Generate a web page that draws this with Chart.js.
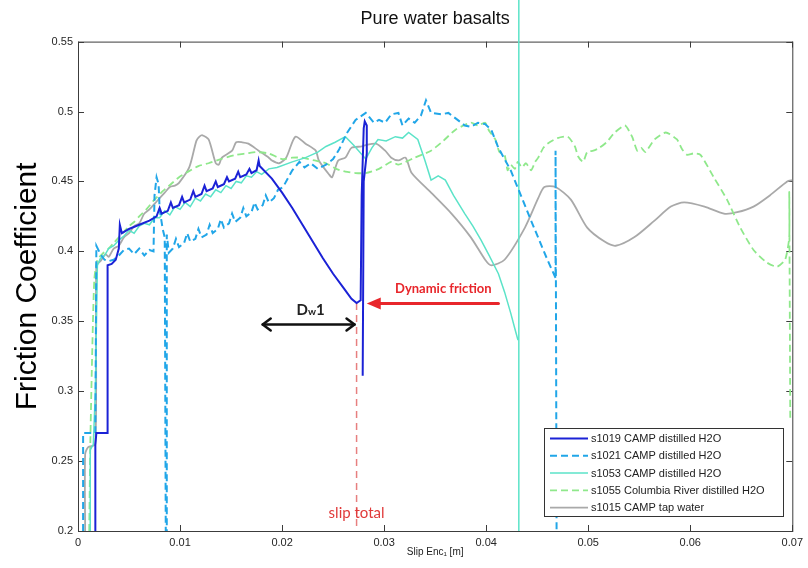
<!DOCTYPE html>
<html>
<head>
<meta charset="utf-8">
<title>Pure water basalts</title>
<script src="https://cdn.jsdelivr.net/npm/chart.js@4.4.0/dist/chart.umd.min.js"></script>
<style>
  html, body { margin: 0; padding: 0; background: #fff; }
  canvas { display: block; }
</style>
</head>
<body>
<canvas id="frictionChart" width="808" height="568"></canvas>
<script>
// Friction coefficient vs slip as [slip (m), mu]

const s1019 = [
  [0.0017,0.2],[0.0017,0.262],[0.0018,0.27],[0.0029,0.27],[0.0029,0.39],[0.0033,0.391],[0.0037,0.394],
  [0.004,0.402],[0.0041,0.419],[0.0043,0.413],[0.005,0.416],[0.006,0.419],[0.007,0.422],
  [0.0077,0.425],[0.008,0.431],[0.0082,0.427],[0.0088,0.429],[0.0091,0.435],[0.0093,0.431],[0.0099,0.433],
  [0.0102,0.439],[0.0104,0.435],[0.011,0.437],[0.0113,0.443],[0.0115,0.439],[0.0121,0.441],[0.0124,0.447],
  [0.0126,0.443],[0.0132,0.445],[0.0135,0.45],[0.0137,0.446],[0.0143,0.448],[0.0146,0.453],[0.0148,0.45],
  [0.0154,0.452],[0.0157,0.457],[0.0159,0.453],[0.0165,0.455],[0.0168,0.459],[0.017,0.456],[0.0175,0.458],
  [0.0177,0.465],[0.0178,0.461],
  [0.019,0.452],[0.02,0.442],[0.021,0.431],[0.022,0.419],[0.023,0.407],[0.024,0.395],[0.025,0.384],
  [0.026,0.374],[0.0268,0.366],[0.0273,0.363],[0.0277,0.365],[0.0278,0.44],[0.028,0.488],[0.0281,0.493],
  [0.0283,0.49],[0.0283,0.47],[0.028,0.45],[0.0279,0.311]
];

const s1021 = [
  [0.0005,0.2],[0.0005,0.27],[0.0017,0.27],[0.0018,0.404],[0.0022,0.398],[0.0026,0.394],[0.003,0.393],
  [0.0035,0.394],[0.004,0.397],[0.0045,0.401],[0.005,0.402],[0.0055,0.398],[0.006,0.402],[0.0065,0.397],
  [0.007,0.401],[0.0074,0.4],[0.0075,0.44],[0.0077,0.453],[0.0079,0.448],[0.008,0.43],[0.0083,0.416],
  [0.0085,0.41],[0.0086,0.2],[0.0087,0.2],[0.0087,0.412],[0.0089,0.399],[0.0093,0.402],[0.0096,0.409],
  [0.0099,0.403],[0.0104,0.406],[0.0107,0.413],[0.011,0.407],[0.0115,0.409],[0.0118,0.416],[0.0121,0.41],
  [0.0126,0.412],[0.0129,0.419],[0.0132,0.413],[0.0137,0.416],[0.014,0.423],[0.0143,0.417],[0.0148,0.42],
  [0.0151,0.427],[0.0154,0.421],[0.0159,0.424],[0.0162,0.431],[0.0165,0.425],[0.017,0.428],[0.0173,0.435],
  [0.0176,0.43],[0.0181,0.433],[0.0184,0.44],[0.0187,0.435],[0.0192,0.438],[0.0196,0.444],[0.0201,0.446],
  [0.021,0.458],[0.0217,0.464],[0.0222,0.46],[0.0228,0.463],[0.0235,0.459],[0.0243,0.462],[0.025,0.466],
  [0.0256,0.473],[0.0263,0.484],[0.0272,0.494],[0.0282,0.499],[0.029,0.492],[0.0295,0.494],[0.0301,0.492],
  [0.0307,0.498],[0.0314,0.499],[0.0318,0.49],[0.0324,0.495],[0.033,0.492],[0.0336,0.497],[0.0341,0.508],
  [0.0346,0.499],[0.0356,0.498],[0.0363,0.499],[0.0372,0.494],[0.0379,0.49],[0.0385,0.489],[0.0392,0.492],
  [0.0399,0.491],[0.0405,0.487],[0.0412,0.474],[0.0424,0.458],[0.0434,0.44],[0.0444,0.422],[0.0452,0.408],
  [0.046,0.394],[0.0468,0.381],[0.0468,0.472],[0.0469,0.2]
];

const s1053 = [
  [0.0012,0.2],[0.0012,0.258],[0.0015,0.262],[0.0017,0.3],[0.0019,0.39],[0.0022,0.395],[0.0026,0.397],
  [0.003,0.402],[0.0035,0.404],[0.004,0.408],[0.0045,0.411],[0.005,0.415],[0.0055,0.413],[0.006,0.418],
  [0.0065,0.42],[0.007,0.419],[0.0075,0.424],[0.008,0.424],[0.0085,0.429],[0.009,0.426],[0.0095,0.432],
  [0.01,0.43],[0.0105,0.435],[0.011,0.432],[0.0115,0.438],[0.012,0.436],[0.0125,0.441],[0.013,0.439],
  [0.0135,0.444],[0.014,0.442],[0.0145,0.447],[0.015,0.445],[0.0155,0.45],[0.016,0.449],[0.0165,0.454],
  [0.017,0.453],[0.0175,0.457],[0.018,0.455],[0.0187,0.459],[0.0195,0.46],[0.021,0.464],[0.0223,0.467],
  [0.0235,0.471],[0.0243,0.475],[0.0252,0.478],[0.0262,0.482],[0.027,0.476],[0.0282,0.466],[0.0288,0.474],
  [0.0294,0.48],[0.0302,0.479],[0.0311,0.482],[0.0318,0.481],[0.0324,0.485],[0.0333,0.48],[0.034,0.465],
  [0.0346,0.451],[0.0353,0.454],[0.036,0.451],[0.0368,0.44],[0.0379,0.427],[0.0387,0.418],[0.0395,0.408],
  [0.0403,0.397],[0.0412,0.384],[0.0418,0.371],[0.0424,0.356],[0.0428,0.345],[0.0431,0.337],[0.0432,0.337],
  [0.0432,0.7],[0.0432,0.1]
];

const s1055 = [
  [0.0011,0.2],[0.0012,0.26],[0.0014,0.33],[0.0016,0.38],[0.0019,0.394],[0.0025,0.399],[0.003,0.402],
  [0.0035,0.406],[0.004,0.41],[0.0045,0.414],[0.005,0.418],[0.0055,0.421],[0.006,0.425],[0.0067,0.43],
  [0.0075,0.437],[0.0083,0.443],[0.0091,0.448],[0.0099,0.453],[0.0108,0.457],[0.0118,0.461],[0.0128,0.463],
  [0.014,0.466],[0.0155,0.469],[0.0165,0.47],[0.0174,0.471],[0.0187,0.47],[0.02,0.466],[0.021,0.467],
  [0.0219,0.467],[0.0232,0.465],[0.0243,0.463],[0.0253,0.459],[0.0262,0.457],[0.0272,0.456],[0.0282,0.456],
  [0.0295,0.459],[0.0307,0.464],[0.0314,0.462],[0.033,0.467],[0.0346,0.472],[0.0358,0.479],[0.037,0.487],
  [0.0385,0.492],[0.0392,0.49],[0.0399,0.492],[0.0403,0.486],[0.0409,0.48],[0.0413,0.471],[0.0418,0.469],
  [0.0421,0.458],[0.0424,0.462],[0.0428,0.459],[0.0431,0.464],[0.0435,0.46],[0.0439,0.463],[0.0444,0.458],
  [0.0448,0.464],[0.0451,0.467],[0.0456,0.474],[0.046,0.477],[0.047,0.481],[0.048,0.482],[0.0487,0.475],
  [0.049,0.468],[0.0495,0.464],[0.0499,0.471],[0.0505,0.472],[0.0511,0.474],[0.0518,0.478],[0.0526,0.485],
  [0.0536,0.49],[0.0543,0.482],[0.0548,0.472],[0.0552,0.474],[0.0556,0.471],[0.0565,0.48],[0.0576,0.485],
  [0.0587,0.48],[0.0592,0.473],[0.0597,0.469],[0.0603,0.47],[0.061,0.469],[0.0623,0.453],[0.0636,0.437],
  [0.0649,0.417],[0.0662,0.401],[0.0675,0.392],[0.0685,0.389],[0.0693,0.394],[0.0697,0.41],[0.0697,0.442],
  [0.0698,0.28]
];

const s1015 = [
  [0.0007,0.2],[0.0007,0.255],[0.001,0.26],[0.0017,0.262],[0.0018,0.39],[0.0022,0.393],[0.0027,0.398],
  [0.003,0.396],[0.0035,0.402],[0.004,0.404],[0.0045,0.41],[0.005,0.413],[0.0055,0.418],[0.006,0.42],
  [0.0065,0.427],[0.007,0.43],[0.0075,0.434],[0.008,0.438],[0.0085,0.442],[0.009,0.446],[0.0095,0.447],
  [0.0099,0.449],[0.0109,0.46],[0.0116,0.479],[0.0119,0.482],[0.0122,0.483],[0.0128,0.48],[0.0135,0.463],
  [0.0138,0.462],[0.0141,0.467],[0.0151,0.472],[0.0155,0.478],[0.0161,0.478],[0.0167,0.477],[0.0177,0.472],
  [0.0187,0.467],[0.019,0.465],[0.0197,0.463],[0.0204,0.467],[0.0213,0.482],[0.0223,0.477],[0.0233,0.472],
  [0.0236,0.465],[0.0246,0.455],[0.0249,0.453],[0.0255,0.465],[0.0262,0.467],[0.0268,0.474],[0.0278,0.475],
  [0.0282,0.476],[0.0292,0.477],[0.0301,0.472],[0.0307,0.467],[0.0314,0.465],[0.0321,0.467],[0.0327,0.456],
  [0.0346,0.442],[0.0366,0.427],[0.0385,0.41],[0.0399,0.394],[0.0405,0.39],[0.0418,0.394],[0.0438,0.417],
  [0.0451,0.438],[0.0457,0.446],[0.0468,0.446],[0.0483,0.437],[0.0499,0.417],[0.0516,0.407],[0.0527,0.404],
  [0.0545,0.41],[0.0565,0.422],[0.0581,0.432],[0.0594,0.435],[0.0614,0.432],[0.0633,0.427],[0.0646,0.428],
  [0.0662,0.432],[0.0678,0.44],[0.0695,0.45],[0.07,0.451]
];

// slip total marker (red dashed)
const slipTotal = [[0.0273,0.363],[0.0273,0.2]];

const seriesLabels = [
  's1019 CAMP distilled H2O',
  's1021 CAMP distilled H2O',
  's1053 CAMP distilled H2O',
  's1055 Columbia River distilled H2O',
  's1015 CAMP tap water'
];

const toXY = arr => arr.map(p => ({ x: p[0], y: p[1] }));

// MATLAB style box with inward ticks on all four sides
const boxPlugin = {
  id: 'boxPlugin',
  beforeDatasetsDraw(chart) {
    const { ctx, chartArea: a, scales: { x, y } } = chart;
    ctx.save();
    ctx.strokeStyle = '#3c3c3c';
    ctx.lineWidth = 1;
    ctx.strokeRect(a.left + 0.5, a.top + 0.5, a.right - a.left, a.bottom - a.top);
    ctx.beginPath();
    x.ticks.forEach(t => {
      const px = Math.round(x.getPixelForValue(t.value)) + 0.5;
      ctx.moveTo(px, a.bottom); ctx.lineTo(px, a.bottom - 6);
      ctx.moveTo(px, a.top); ctx.lineTo(px, a.top + 6);
    });
    y.ticks.forEach(t => {
      const py = Math.round(y.getPixelForValue(t.value)) + 0.5;
      ctx.moveTo(a.left, py); ctx.lineTo(a.left + 6, py);
      ctx.moveTo(a.right, py); ctx.lineTo(a.right - 6, py);
    });
    ctx.stroke();
    ctx.restore();
  }
};

function chevron(ctx, x, y, dir) {
  ctx.beginPath();
  ctx.moveTo(x - dir * 8, y - 6);
  ctx.lineTo(x, y);
  ctx.lineTo(x - dir * 8, y + 6);
  ctx.stroke();
}

// Dw1 / dynamic friction / slip total notes
const notesPlugin = {
  id: 'notesPlugin',
  afterDatasetsDraw(chart) {
    const { ctx, scales: { x, y } } = chart;
    ctx.save();
    ctx.lineCap = 'round';
    ctx.lineJoin = 'round';

    // double arrow Dw1
    const ay = y.getPixelForValue(0.3477);
    const ax1 = x.getPixelForValue(0.0181), ax2 = x.getPixelForValue(0.0271);
    ctx.strokeStyle = '#111';
    ctx.lineWidth = 2.5;
    ctx.beginPath(); ctx.moveTo(ax1, ay); ctx.lineTo(ax2, ay); ctx.stroke();
    chevron(ctx, ax1, ay, -1);
    chevron(ctx, ax2, ay, 1);

    const tx = x.getPixelForValue(0.0228), ty = y.getPixelForValue(0.3545);
    ctx.fillStyle = '#222';
    ctx.textBaseline = 'alphabetic';
    ctx.font = 'bold 15px Lato';
    const wD = ctx.measureText('D').width, w1 = ctx.measureText('1').width;
    ctx.font = 'bold 10px Lato';
    const ww = ctx.measureText('w').width;
    let cx = tx - (wD + ww + w1) / 2;
    ctx.font = 'bold 15px Lato';
    ctx.fillText('D', cx, ty); cx += wD;
    ctx.font = 'bold 10px Lato';
    ctx.fillText('w', cx, ty); cx += ww;
    ctx.font = 'bold 15px Lato';
    ctx.fillText('1', cx, ty);

    // red arrow, dynamic friction
    const ry = y.getPixelForValue(0.3627);
    const rx1 = x.getPixelForValue(0.0412), rx2 = x.getPixelForValue(0.0283);
    ctx.strokeStyle = '#e8262b';
    ctx.fillStyle = '#e8262b';
    ctx.lineWidth = 3;
    ctx.beginPath(); ctx.moveTo(rx1, ry); ctx.lineTo(rx2 + 10, ry); ctx.stroke();
    ctx.beginPath();
    ctx.moveTo(rx2, ry); ctx.lineTo(rx2 + 14, ry - 6); ctx.lineTo(rx2 + 14, ry + 6);
    ctx.closePath(); ctx.fill();

    ctx.textAlign = 'center';
    ctx.textBaseline = 'middle';
    ctx.font = 'bold 13px Lato';
    ctx.fillText('Dynamic friction', x.getPixelForValue(0.0358), y.getPixelForValue(0.3733));

    ctx.fillStyle = '#e03a3a';
    ctx.font = '15px Lato';
    ctx.fillText('slip total', x.getPixelForValue(0.0273), y.getPixelForValue(0.2125));
    ctx.restore();
  }
};

// boxed legend in the lower right corner
const legendBox = {
  id: 'legendBox',
  afterDraw(chart) {
    const { ctx } = chart;
    const bx = 544, by = 428, bw = 239, bh = 88;
    ctx.save();
    ctx.fillStyle = '#fff';
    ctx.fillRect(bx, by, bw, bh);
    ctx.strokeStyle = '#333';
    ctx.lineWidth = 1;
    ctx.strokeRect(bx + 0.5, by + 0.5, bw, bh);
    ctx.font = '11px "Liberation Sans"';
    ctx.textBaseline = 'middle';
    chart.data.datasets.forEach((ds, i) => {
      if (i >= seriesLabels.length) return;
      const ry = by + 10.5 + i * 17.3;
      ctx.strokeStyle = ds.borderColor;
      ctx.lineWidth = ds.borderWidth;
      ctx.setLineDash(ds.borderDash || []);
      ctx.beginPath(); ctx.moveTo(bx + 6, ry); ctx.lineTo(bx + 44, ry); ctx.stroke();
      ctx.setLineDash([]);
      ctx.fillStyle = '#222';
      ctx.fillText(ds.label, bx + 47, ry + 0.5);
    });
    ctx.restore();
  }
};

const ctx = document.getElementById('frictionChart').getContext('2d');
new Chart(ctx, {
  type: 'scatter',
  data: {
    datasets: [
      { label: seriesLabels[0], data: toXY(s1019), borderColor: '#1b22d6', borderWidth: 2, order: 1 },
      { label: seriesLabels[1], data: toXY(s1021), borderColor: '#21a6e8', borderWidth: 2, borderDash: [7, 4], order: 2 },
      { label: seriesLabels[2], data: toXY(s1053), borderColor: '#5be3c8', borderWidth: 1.5, order: 3,
        clip: { left: 0, top: false, right: 0, bottom: 0 } },
      { label: seriesLabels[3], data: toXY(s1055), borderColor: '#8fe88b', borderWidth: 1.8, borderDash: [7, 4], order: 4, tension: 0.2 },
      { label: seriesLabels[4], data: toXY(s1015), borderColor: '#a9a9a9', borderWidth: 1.8, order: 5, tension: 0.25 },
      { label: 'slip total', data: toXY(slipTotal), borderColor: '#e77f7f', borderWidth: 1.5, borderDash: [7, 5], order: 6 }
    ]
  },
  options: {
    responsive: false,
    animation: false,
    devicePixelRatio: 1,
    showLine: true,
    layout: { padding: { left: 0, right: 13, top: 0, bottom: 0 } },
    elements: { point: { radius: 0, hoverRadius: 0 }, line: { fill: false } },
    plugins: {
      legend: { display: false },
      tooltip: { enabled: false },
      title: {
        display: true,
        text: 'Pure water basalts',
        fullSize: false,
        color: '#111',
        font: { family: '"Liberation Sans"', size: 18, weight: 'normal' },
        padding: { top: 8, bottom: 12 }
      }
    },
    scales: {
      x: {
        type: 'linear',
        min: 0,
        max: 0.07,
        grid: { display: false, drawTicks: false },
        border: { display: false },
        ticks: {
          stepSize: 0.01,
          padding: 5,
          maxRotation: 0,
          color: '#262626',
          font: { family: '"Liberation Sans"', size: 11 },
          callback: v => String(+v.toFixed(3))
        },
        title: {
          display: true,
          text: 'Slip Enc\u2081 [m]',
          color: '#222',
          font: { family: '"Liberation Sans"', size: 10 },
          padding: { top: 0, bottom: 10 }
        },
        afterFit: s => { s.height = 37; }
      },
      y: {
        type: 'linear',
        min: 0.2,
        max: 0.55,
        grid: { display: false, drawTicks: false },
        border: { display: false },
        ticks: {
          stepSize: 0.05,
          padding: 5,
          color: '#262626',
          font: { family: '"Liberation Sans"', size: 11 },
          callback: v => String(+v.toFixed(3))
        },
        title: {
          display: true,
          text: 'Friction Coefficient',
          color: '#000',
          font: { family: '"Liberation Sans"', size: 30 },
          padding: { top: 10, bottom: 0 }
        },
        afterFit: s => { s.width = 78; }
      }
    }
  },
  plugins: [boxPlugin, notesPlugin, legendBox]
});
</script>
</body>
</html>
